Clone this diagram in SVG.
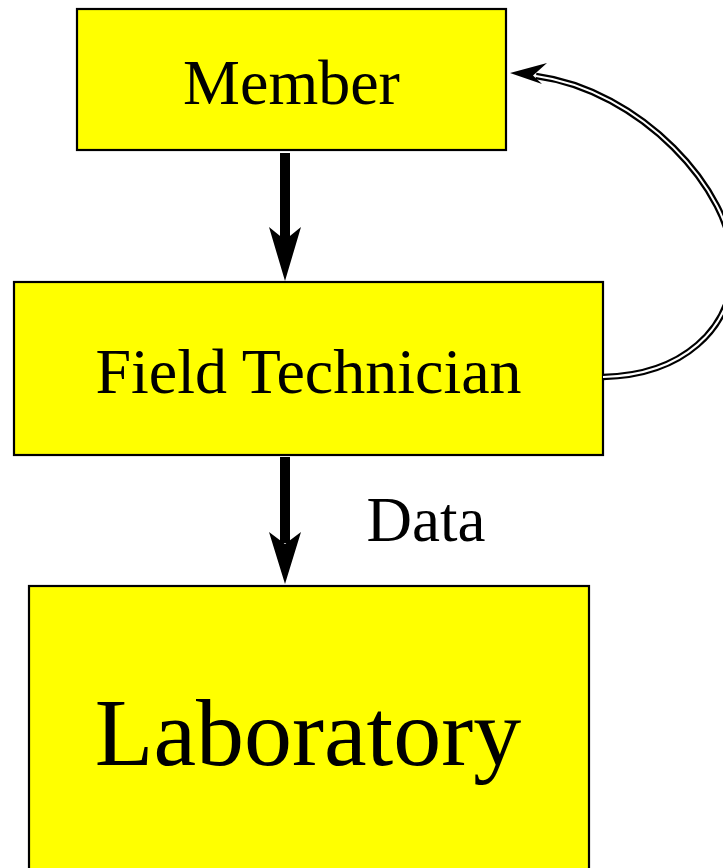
<svg xmlns="http://www.w3.org/2000/svg" width="723" height="868" viewBox="0 0 723 868">
<style>
.box{fill:#ffff00;stroke:#000;stroke-width:2.2}
.t{font-family:"Liberation Serif","Times New Roman",serif;fill:#000;text-anchor:middle}
.shaft{stroke:#000;stroke-width:10;fill:none}
.dbl-out{fill:none;stroke:#000;stroke-width:6.5}
.dbl-in{fill:none;stroke:#fff;stroke-width:2}
</style>
<rect width="723" height="868" fill="#fff"/>
<g id="member"><rect class="box" x="77" y="9" width="429" height="141"/><text class="t" x="291.5" y="104" font-size="64">Member</text></g>
<g id="field-technician"><rect class="box" x="14" y="282" width="589" height="173"/><text class="t" x="308.5" y="393" font-size="64">Field Technician</text></g>
<g id="laboratory"><rect class="box" x="29" y="586" width="560" height="300"/><text class="t" x="308" y="765" font-size="96">Laboratory</text></g>
<g id="connectors">
<line class="shaft" x1="285" y1="153" x2="285" y2="240"/>
<path d="M285 281 L269 227 L285 240 L301 227 Z" fill="#000"/>
<line class="shaft" x1="285" y1="457" x2="285" y2="543"/>
<path d="M285 584 L269 532 L285 544 L301 532 Z" fill="#000"/>
<path class="dbl-out" d="M603 377 C682 375 733 330 733 265 C733 190 640 90 536 76"/>
<path class="dbl-in" d="M603 377 C682 375 733 330 733 265 C733 190 640 90 536 76"/>
<path d="M510 73 L547 63 L533 75.5 L542 84 Z" fill="#000"/>
<text class="t" x="426" y="541" font-size="63">Data</text>
</g>
</svg>
